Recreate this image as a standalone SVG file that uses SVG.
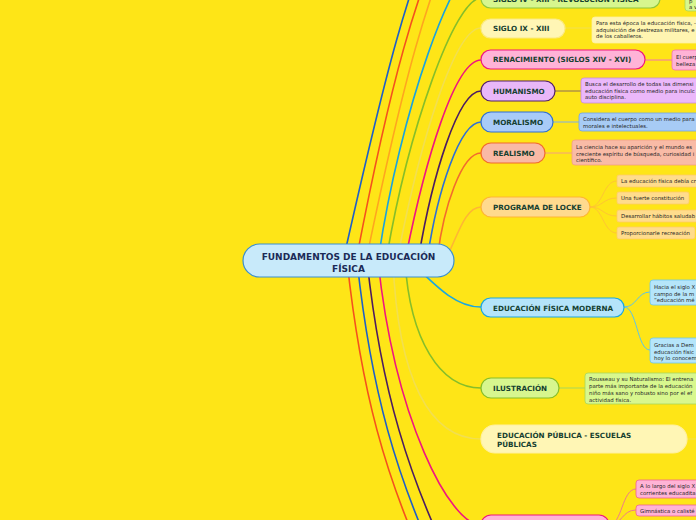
<svg xmlns="http://www.w3.org/2000/svg" width="696" height="520" viewBox="0 0 696 520">
<style>
.l{fill:none;stroke-width:1.6;stroke-linecap:round}
.s{fill:none;stroke-width:1}
.t{font-family:"DejaVu Sans",Verdana,sans-serif;font-weight:bold;font-size:7.2px;fill:#153F30}
.d{font-family:"DejaVu Sans",Verdana,sans-serif;font-size:5.4px;fill:#262626}
.c{font-family:"DejaVu Sans",Verdana,sans-serif;font-weight:bold;font-size:9px;fill:#1B2A57;text-anchor:middle}
.pill{stroke-width:1.2}
.box{stroke-width:0.8}
</style>
<rect width="696" height="520" fill="#FEE517"/>
<g id="connectors">
  <path class="l" stroke="#1E5FC8" d="M343,261 C375,120 410,-40 455,-110"/>
  <path class="l" stroke="#F4511E" d="M356,261 C383,120 418,-40 470,-110"/>
  <path class="l" stroke="#FFA51F" d="M366,261 C395,120 430,-40 481,-110"/>
  <path class="l" stroke="#1AA3DE" d="M378,261 C400,110 455,-40 481,-40"/>
  <path class="l" stroke="#86BE2A" d="M386,261 C408,130 455,-2 481,-2"/>
  <path class="l" stroke="#F2DF50" d="M397,261 C420,140 455,28 481,28"/>
  <path class="l" stroke="#F0167F" d="M405,261 C425,160 455,60 481,60"/>
  <path class="l" stroke="#4B1C62" d="M418,261 C432,176 458,91 481,91"/>
  <path class="l" stroke="#2E6FD6" d="M427,261 C437,191 460,122 481,122"/>
  <path class="l" stroke="#F26B2E" d="M437,261 C443,207 462,153 481,153"/>
  <path class="l" stroke="#FFB634" d="M445,261 C458,235 465,207 481,207"/>
  <path class="l" stroke="#1AA7E1" d="M410,261 C435,285 455,307 481,307"/>
  <path class="l" stroke="#86BE2A" d="M405,261 C410,340 440,388 481,388"/>
  <path class="l" stroke="#F2DF50" d="M393,261 C398,380 430,439 481,439"/>
  <path class="l" stroke="#F0167F" d="M378,261 C395,420 450,525 481,525"/>
  <path class="l" stroke="#4B1C62" d="M367,261 C380,380 405,480 470,600"/>
  <path class="l" stroke="#1E5FC8" d="M357,261 C370,380 393,480 455,600"/>
  <path class="l" stroke="#F4511E" d="M347,261 C360,380 382,480 443,600"/>
  <path class="s" stroke="#A8D75A" d="M660,-2 H685"/>
  <path class="s" stroke="#F2DF50" d="M565,28 H592"/>
  <path class="s" stroke="#F472B0" d="M645,60 H672"/>
  <path class="s" stroke="#8A6A5A" d="M555,91 H581"/>
  <path class="s" stroke="#7FAEEB" d="M553,122 H579"/>
  <path class="s" stroke="#F4A080" d="M545,153 H572"/>
  <path class="s" stroke="#A8D75A" d="M559,388 H585"/>
  <path class="s" stroke="#F2DF50" d="M687,439 H696"/>
  <path class="s" stroke="#FFC533" d="M590,207 C603,207 603,181 617,181"/>
  <path class="s" stroke="#FFC533" d="M590,207 C603,207 603,198 617,198"/>
  <path class="s" stroke="#FFC533" d="M590,207 C603,207 603,216 617,216"/>
  <path class="s" stroke="#FFC533" d="M590,207 C603,207 603,233 617,233"/>
  <path class="s" stroke="#5DC3EA" d="M624,307 C637,307 637,292 650,292"/>
  <path class="s" stroke="#5DC3EA" d="M624,307 C637,307 637,350 650,350"/>
  <path class="s" stroke="#F07A8A" d="M609,525 C622,525 622,489 636,489"/>
  <path class="s" stroke="#F07A8A" d="M609,525 C622,525 622,510 636,510"/>
</g>

<g id="root">
  <rect x="243" y="244" width="211" height="33" rx="16.5" fill="#C8EAFA" stroke="#3A8FCF" stroke-width="1.2"/>
  <text class="c" x="348.5" y="259.5">FUNDAMENTOS DE LA EDUCACIÓN</text>
  <text class="c" x="348.5" y="271.5">FÍSICA</text>
</g>

<g id="siglo-iv">
  <rect class="pill" x="481" y="-11" width="179" height="19" rx="9.5" fill="#D7F68E" stroke="#8DC63F"/>
  <text class="t" x="493" y="2">SIGLO IV - XIII - REVOLUCIÓN FÍSICA</text>
</g>
<g id="siglo-iv-desc">
  <rect class="box" x="685" y="-20" width="30" height="31" rx="3" fill="#D8F78E" stroke="#A8D75A"/>
  <text class="d" x="689" y="2.5">p</text>
  <text class="d" x="689" y="8.5">a v</text>
</g>

<g id="siglo-ix">
  <rect class="pill" x="481" y="19" width="84" height="19" rx="9.5" fill="#FFF6B5" stroke="#FBEA80"/>
  <text class="t" x="493" y="31.3">SIGLO IX - XIII</text>
</g>
<g id="siglo-ix-desc">
  <rect class="box" x="592" y="17" width="120" height="26" rx="3" fill="#FFF5B1" stroke="#FFF0A0"/>
  <text class="d" x="596" y="25">Para esta época la educación física, -</text>
  <text class="d" x="596" y="31.5">adquisición de destrezas militares, e</text>
  <text class="d" x="596" y="38">de los caballeros.</text>
</g>

<g id="renacimiento">
  <rect class="pill" x="481" y="50" width="164" height="19" rx="9.5" fill="#FFB3D7" stroke="#F0167F"/>
  <text class="t" x="493" y="62.3">RENACIMIENTO (SIGLOS XIV - XVI)</text>
</g>
<g id="renacimiento-desc">
  <rect class="box" x="672" y="50" width="60" height="20" rx="3" fill="#FFB3D6" stroke="#F472B0"/>
  <text class="d" x="676" y="58.5">El cuerp</text>
  <text class="d" x="676" y="65.5">belleza</text>
</g>

<g id="humanismo">
  <rect class="pill" x="481" y="81" width="74" height="20" rx="10" fill="#E9B7F8" stroke="#53206A"/>
  <text class="t" x="493" y="93.6">HUMANISMO</text>
</g>
<g id="humanismo-desc">
  <rect class="box" x="581" y="78" width="130" height="25" rx="3" fill="#EBB8FA" stroke="#C98BE0"/>
  <text class="d" x="585" y="86">Busca el desarrollo de todas las dimensi</text>
  <text class="d" x="585" y="92.5">educación física como medio para inculc</text>
  <text class="d" x="585" y="99">auto disciplina.</text>
</g>

<g id="moralismo">
  <rect class="pill" x="481" y="112" width="72" height="20" rx="10" fill="#A8CBF7" stroke="#2E6FD6"/>
  <text class="t" x="493" y="124.6">MORALISMO</text>
</g>
<g id="moralismo-desc">
  <rect class="box" x="579" y="113" width="130" height="18" rx="3" fill="#A7CBF5" stroke="#6FA3E8"/>
  <text class="d" x="583" y="121">Considera el cuerpo como un medio para</text>
  <text class="d" x="583" y="127.5">morales e intelectuales.</text>
</g>

<g id="realismo">
  <rect class="pill" x="481" y="143" width="64" height="20" rx="10" fill="#F9B9A5" stroke="#F26B2E"/>
  <text class="t" x="493" y="155.6">REALISMO</text>
</g>
<g id="realismo-desc">
  <rect class="box" x="572" y="140" width="140" height="25" rx="3" fill="#F9BBA6" stroke="#F4A080"/>
  <text class="d" x="576" y="149">La ciencia hace su aparición y el mundo es</text>
  <text class="d" x="576" y="155.5">creciente espíritu de búsqueda, curiosidad i</text>
  <text class="d" x="576" y="162">científico.</text>
</g>

<g id="locke">
  <rect class="pill" x="481" y="197" width="109" height="20" rx="10" fill="#FFDA8E" stroke="#FFB634"/>
  <text class="t" x="493" y="209.6">PROGRAMA DE LOCKE</text>
</g>
<g id="locke-1">
  <rect class="box" x="617" y="175" width="100" height="12" rx="2" fill="#FFDC8C" stroke="#FFCC66"/>
  <text class="d" x="621" y="183">La educación física debía cr</text>
</g>
<g id="locke-2">
  <rect class="box" x="617" y="192" width="72" height="12" rx="2" fill="#FFDC8C" stroke="#FFCC66"/>
  <text class="d" x="621" y="200">Una fuerte constitución</text>
</g>
<g id="locke-3">
  <rect class="box" x="617" y="210" width="100" height="12" rx="2" fill="#FFDC8C" stroke="#FFCC66"/>
  <text class="d" x="621" y="218">Desarrollar hábitos saludab</text>
</g>
<g id="locke-4">
  <rect class="box" x="617" y="227" width="78" height="12" rx="2" fill="#FFDC8C" stroke="#FFCC66"/>
  <text class="d" x="621" y="235">Proporcionarle recreación</text>
</g>

<g id="efm">
  <rect class="pill" x="481" y="298" width="143" height="19" rx="9.5" fill="#B4E4FA" stroke="#1AA7E1"/>
  <text class="t" x="493" y="310.6">EDUCACIÓN FÍSICA MODERNA</text>
</g>
<g id="efm-1">
  <rect class="box" x="650" y="280" width="60" height="25" rx="3" fill="#B5E5FA" stroke="#6CC7EE"/>
  <text class="d" x="654" y="289">Hacia el siglo X</text>
  <text class="d" x="654" y="295.5">campo de la m</text>
  <text class="d" x="654" y="302">“educación mé</text>
</g>
<g id="efm-2">
  <rect class="box" x="650" y="338" width="60" height="25" rx="3" fill="#B5E5FA" stroke="#6CC7EE"/>
  <text class="d" x="654" y="347">Gracias a Dem</text>
  <text class="d" x="654" y="353.5">educación físic</text>
  <text class="d" x="654" y="360">hoy lo conocem</text>
</g>

<g id="ilustracion">
  <rect class="pill" x="481" y="378" width="78" height="20" rx="10" fill="#D7F68E" stroke="#86BE2A"/>
  <text class="t" x="493" y="390.6">ILUSTRACIÓN</text>
</g>
<g id="ilustracion-desc">
  <rect class="box" x="585" y="373" width="130" height="31" rx="3" fill="#D8F78E" stroke="#A8D75A"/>
  <text class="d" x="589" y="381">Rousseau y su Naturalismo: El entrena</text>
  <text class="d" x="589" y="388">parte más importante de la educación</text>
  <text class="d" x="589" y="395">niño más sano y robusto sino por el ef</text>
  <text class="d" x="589" y="402">actividad física.</text>
</g>

<g id="educacion-publica">
  <rect class="pill" x="481" y="425" width="206" height="28" rx="14" fill="#FFF6B5" stroke="#FFF0A0"/>
  <text class="t" x="497" y="437.8">EDUCACIÓN PÚBLICA - ESCUELAS</text>
  <text class="t" x="497" y="447">PÚBLICAS</text>
</g>

<g id="bottom-topic">
  <rect class="pill" x="481" y="515" width="128" height="20" rx="10" fill="#FFB3D7" stroke="#F0167F"/>
</g>
<g id="bottom-1">
  <rect class="box" x="636" y="480" width="70" height="18" rx="3" fill="#FFB3D6" stroke="#F06292"/>
  <text class="d" x="640" y="488">A lo largo del siglo X</text>
  <text class="d" x="640" y="495">corrientes educadita</text>
</g>
<g id="bottom-2">
  <rect class="box" x="636" y="505" width="70" height="11" rx="3" fill="#FFB3D6" stroke="#F06292"/>
  <text class="d" x="640" y="512.5">Gimnástica o calisté</text>
</g>
</svg>
